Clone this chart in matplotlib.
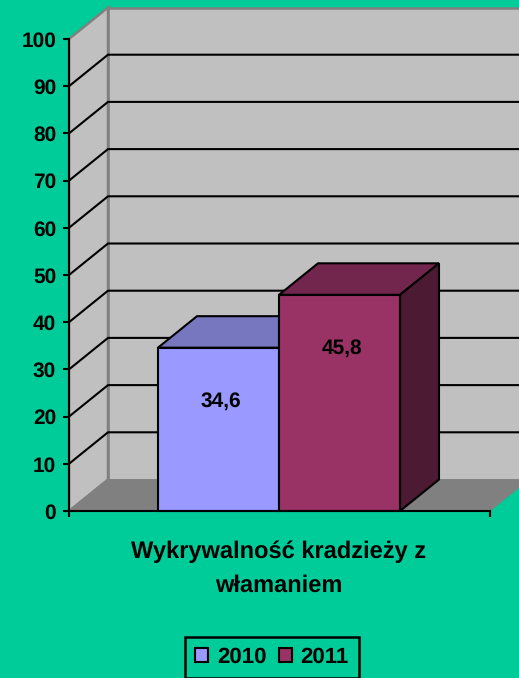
import matplotlib
matplotlib.use('Agg')
import matplotlib.pyplot as plt
from matplotlib.patches import Patch

plt.rcParams['font.family'] = ['Liberation Sans', 'DejaVu Sans']
plt.rcParams['font.weight'] = 'bold'
plt.rcParams['text.hinting'] = 'no_hinting'

years = ['2010', '2011']
values = [34.6, 45.8]
labels = ['34,6', '45,8']
front_colors = ['#9999FF', '#993366']
top_colors = ['#7777C0', '#73264D']
side_colors = ['#4D4D80', '#4D1A33']
ticks = [0, 10, 20, 30, 40, 50, 60, 70, 80, 90, 100]
title = 'Wykrywalność kradzieży z\nwłamaniem'

bg = '#00CC99'
wall = '#C0C0C0'
floor = '#808080'

fig = plt.figure(figsize=(5.19, 6.78), dpi=100, facecolor=bg)
# przednia plaszczyzna wykresu
ax = fig.add_axes([69 / 519, (678 - 511) / 678, 421 / 519, 472 / 678])
ax.set_xlim(0, 1)
ax.set_ylim(0, 100)
ax.patch.set_visible(False)

# glebokosc 3D w jednostkach osi
dx = 39 / 421
dy = 31.5 / 472 * 100
bar_w = 121 / 421
start = 89 / 421

# sciany i podloga
ax.fill([dx, 1 + dx, 1 + dx, dx], [dy, dy, 100 + dy, 100 + dy], fc=wall, ec=floor, lw=1.8, clip_on=False, zorder=1)
ax.fill([0, dx, dx, 0], [0, dy, 100 + dy, 100], fc=wall, ec=floor, lw=1.8, clip_on=False, zorder=1)
ax.fill([0, 1, 1 + dx, dx], [0, 0, dy, dy], fc=floor, ec=floor, lw=0.5, clip_on=False, zorder=1)

# siatka
for t in ticks[1:-1]:
    ax.plot([0, dx, 1 + dx], [t, t + dy, t + dy], color='black', lw=1.5, clip_on=False, zorder=2)

# slupki
for i in range(len(values)):
    x0 = start + i * bar_w
    x1 = x0 + bar_w
    v = values[i]
    ax.fill([x0, x1, x1 + dx, x0 + dx], [v, v, v + dy, v + dy], fc=top_colors[i], ec='black', lw=1.5, clip_on=False, zorder=3 + i)
    ax.fill([x1, x1 + dx, x1 + dx, x1], [0, dy, v + dy, v], fc=side_colors[i], ec='black', lw=1.5, clip_on=False, zorder=3 + i)
    ax.bar(x0, v, bar_w, align='edge', color=front_colors[i], edgecolor='black', lw=1.5, clip_on=False, zorder=3 + i)
    ax.text(x0 + bar_w / 2 + 0.006, v - 11.4, labels[i], ha='center', va='center', fontsize=15, color='black', zorder=6)

for s in ['top', 'right']:
    ax.spines[s].set_visible(False)
for s in ['left', 'bottom']:
    ax.spines[s].set_linewidth(1.5)
    ax.spines[s].set_zorder(7)
ax.set_yticks(ticks)
ax.set_xticks([0, 1])
ax.set_xticklabels(['', ''])
ax.tick_params(axis='both', length=4.3, width=1.5, labelsize=15, pad=5)
ax.set_xlabel(title, fontsize=17, fontweight='bold', linespacing=1.65, labelpad=12, x=(279 - 69) / 421)

handles = [Patch(fc=front_colors[i], ec='black', lw=1.5) for i in range(2)]
leg = fig.legend(handles, years, ncol=2, loc='upper center', bbox_to_anchor=(272 / 519, 1 - 637 / 678),
                 borderaxespad=0, fontsize=16, frameon=True, facecolor=bg, edgecolor='black', fancybox=False,
                 framealpha=1, handlelength=0.58, handleheight=0.58, handletextpad=0.4, columnspacing=0.55,
                 borderpad=0.45)
leg.get_frame().set_linewidth(1.8)

fig.savefig('out.png', dpi=100, facecolor=bg)
